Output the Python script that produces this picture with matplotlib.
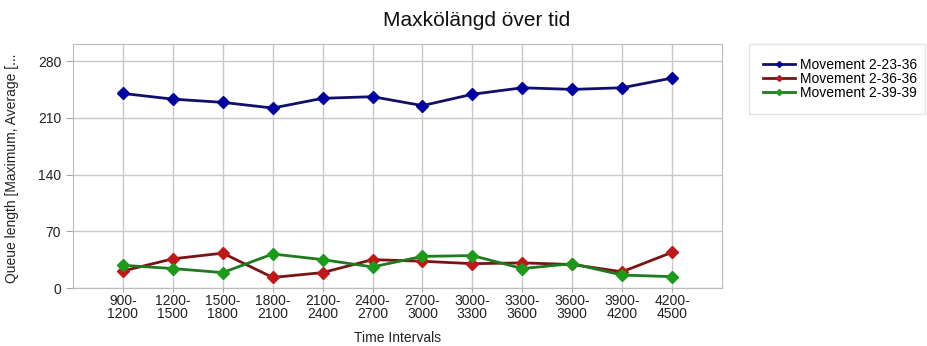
import matplotlib
matplotlib.use("Agg")
import matplotlib.pyplot as plt

categories = ["900-\n1200", "1200-\n1500", "1500-\n1800", "1800-\n2100", "2100-\n2400",
              "2400-\n2700", "2700-\n3000", "3000-\n3300", "3300-\n3600", "3600-\n3900",
              "3900-\n4200", "4200-\n4500"]
series_names = ["Movement 2-23-36", "Movement 2-36-36", "Movement 2-39-39"]
blue_vals = [240, 233, 229, 222, 234, 236, 225, 239, 247, 245, 247, 259]
red_vals = [21, 36, 43, 13, 19, 35, 33, 30, 31, 29, 20, 44]
green_vals = [28, 24, 19, 42, 35, 26, 39, 40, 24, 30, 16, 14]
yticks = [0, 70, 140, 210, 280]

plt.rcParams['font.family'] = ['Liberation Sans', 'DejaVu Sans']

fig = plt.figure(figsize=(9.27, 3.46), dpi=100)
ax = fig.add_axes([73/927, 1-288/346, (722-73)/927, (288-44)/346])

x = list(range(1, len(categories) + 1))
styles = [
    (blue_vals, "#10106a", "#0000a0"),
    (red_vals, "#7a1414", "#c01818"),
    (green_vals, "#1f7a1f", "#1c9a1c"),
]
for (vals, lc, mc), name in zip(styles, series_names):
    ax.plot(x, vals, color=lc, lw=2, marker="D", ms=6.5,
            markerfacecolor=mc, markeredgecolor=mc, label=name, zorder=3)

ax.set_xlim(0, len(categories) + 1)
ax.set_ylim(0, 301)
ax.set_yticks(yticks)
ax.set_xticks(x)
ax.set_xticklabels(categories, fontsize=10, color="#222222", linespacing=0.95)
ax.tick_params(axis='y', labelsize=10, colors="#222222", length=5, color="#aaaaaa")
ax.tick_params(axis='x', length=3, pad=1, color="#aaaaaa")
ax.grid(True, color="#c8c8c8", lw=1)
ax.set_axisbelow(True)
for s in ax.spines.values():
    s.set_color("#bbbbbb")

ax.set_xlabel("Time Intervals", fontsize=10, color="#222222", labelpad=7)
fig.text(12/927, 1-168/346, "Queue length [Maximum, Average [...", rotation=90,
         ha="center", va="center", fontsize=10, color="#222222")
fig.text(477/927, 1-21/346, "Maxkölängd över tid", ha="center", va="center",
         fontsize=15, color="#111111")

leg_lines = []
for (vals, lc, mc), name in zip(styles, series_names):
    l, = ax.plot([], [], color=lc, lw=2, marker="D", ms=3,
                 markerfacecolor=mc, markeredgecolor=mc, label=name)
    leg_lines.append(l)
leg = fig.legend(handles=leg_lines, loc="upper left",
                 bbox_to_anchor=(749/927, 1-44/346, 176/927, 0.0), mode="expand",
                 fontsize=10, frameon=True, fancybox=False, borderpad=1.0,
                 labelspacing=0.0, handlelength=2.3, handletextpad=0.4, borderaxespad=0)
leg.get_frame().set_edgecolor("#dddddd")
leg.get_frame().set_linewidth(1)

fig.savefig("out.png", dpi=100)
